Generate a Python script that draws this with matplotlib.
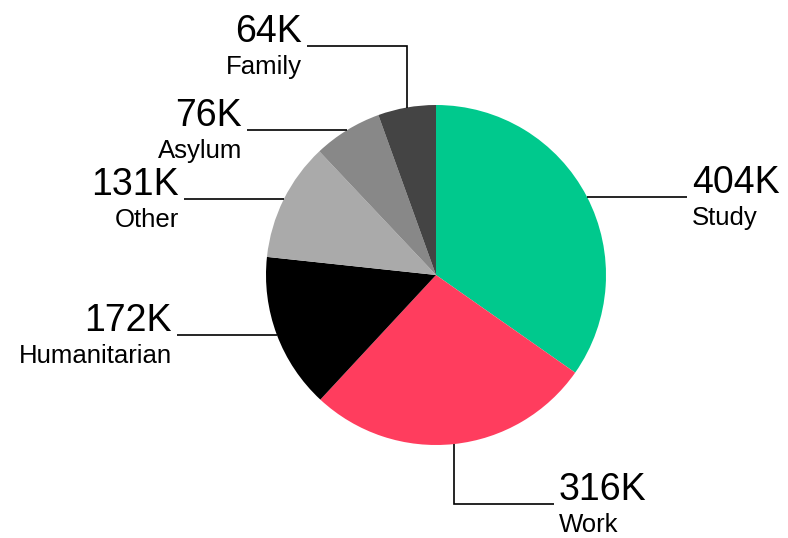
import numpy as np
import matplotlib.pyplot as plt

plt.rcParams['font.family'] = ['Liberation Sans', 'DejaVu Sans']

# data (thousands)
categories = ['Study', 'Work', 'Humanitarian', 'Other', 'Asylum', 'Family']
values = [404, 316, 172, 131, 76, 64]
colors = ['#00c98d', '#ff3d5e', '#000000', '#aaaaaa', '#888888', '#444444']

# leader line routes: first a vertical leg (px), then horizontal leg (px)
v_legs = [0, 60, 0, 0, 0, -62]
h_legs = [100, 100, -100, -100, -100, -100]

W, H = 788, 538
fig = plt.figure(figsize=(W / 100, H / 100), dpi=100)
ax = fig.add_axes([0, 0, 1, 1])

cx, cy, r = 436, 275, 170
wedges, _ = ax.pie(values, colors=colors, startangle=-90, counterclock=True,
                   center=(cx, cy), radius=r, frame=True,
                   wedgeprops=dict(linewidth=0))
ax.set_xlim(0, W)
ax.set_ylim(H, 0)
ax.set_aspect('equal')
ax.axis('off')

for w, cat, val, vl, hl in zip(wedges, categories, values, v_legs, h_legs):
    mid = np.deg2rad((w.theta1 + w.theta2) / 2)
    x0 = cx + r * np.cos(mid)
    y0 = cy + r * np.sin(mid)
    y1 = y0 + vl
    x1 = x0 + hl
    ax.plot([x0, x0, x1], [y0, y1, y1], color='black', lw=1.2,
            solid_capstyle='butt', solid_joinstyle='miter')
    ha = 'left' if hl > 0 else 'right'
    tx = x1 + (5 if hl > 0 else -5)
    ax.text(tx, y1 - 4, f'{val}K', fontsize=27, ha=ha, va='baseline')
    ax.text(tx, y1 + 28, cat, fontsize=18.5, ha=ha, va='baseline')

fig.savefig('out.png', dpi=100)
